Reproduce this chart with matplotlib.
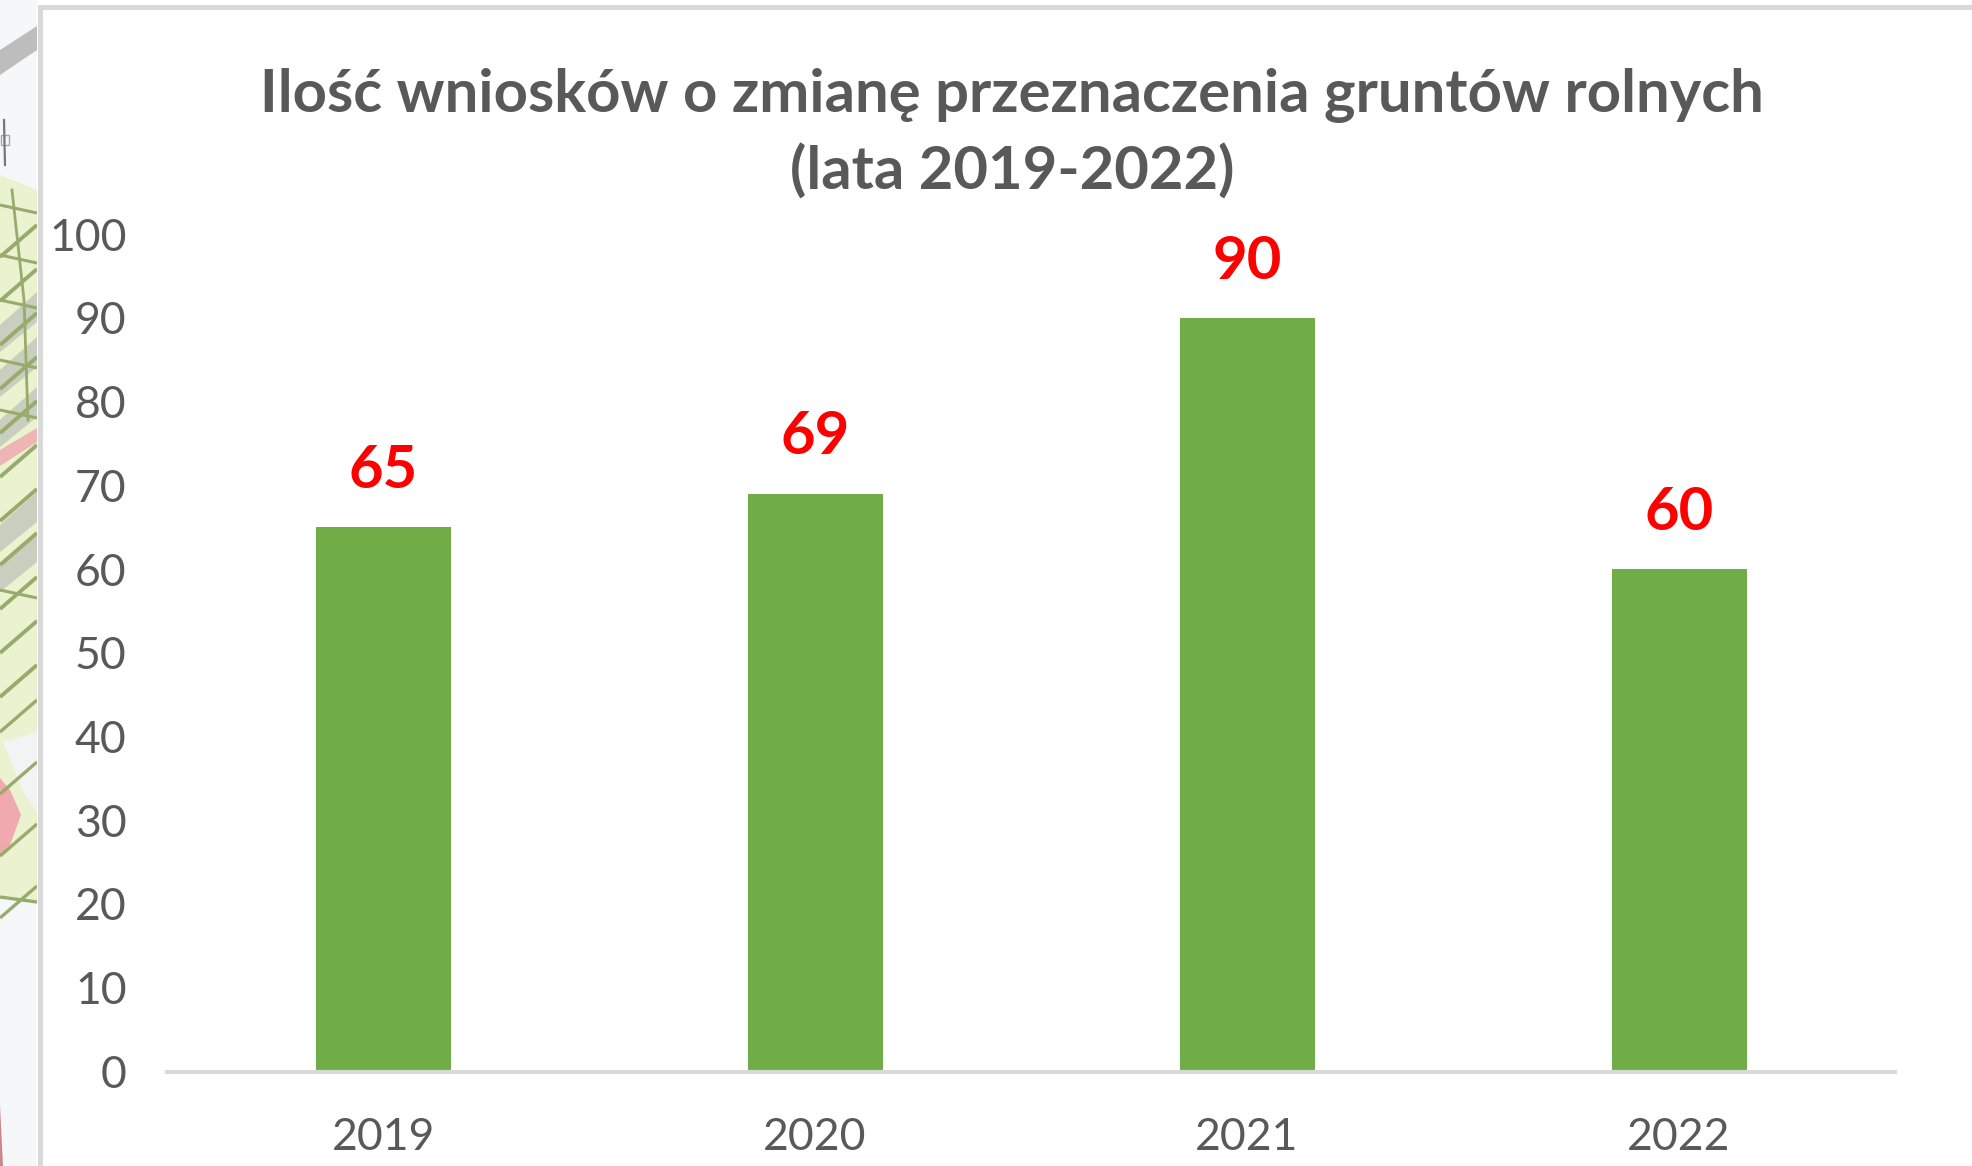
#!/usr/bin/env python3
# -*- coding: utf-8 -*-
"""Applications for farmland re-designation, 2019-2022."""

import numpy as np
import matplotlib

matplotlib.use("Agg")
import matplotlib.pyplot as plt
from matplotlib.patches import Polygon, Rectangle

plt.rcParams["font.family"] = ["Lato", "DejaVu Sans"]

W, H = 1972, 1166

years = ["2019", "2020", "2021", "2022"]
counts = [65, 69, 90, 60]
y_ticks = [0, 10, 20, 30, 40, 50, 60, 70, 80, 90, 100]
title = "Ilość wniosków o zmianę przeznaczenia gruntów rolnych\n(lata 2019-2022)"

GREEN = "#70AD47"
TEXT = "#595959"
AXIS = "#D9D9D9"
RED = "#FF0000"
OLIVE = "#97AB6C"

fig = plt.figure(figsize=(W / 100, H / 100), dpi=100, facecolor="white")

# map fragment showing behind the chart on the left
bg = fig.add_axes([0, 0, 1, 1], zorder=0)
bg.set_xlim(0, W)
bg.set_ylim(H, 0)
bg.axis("off")
bg.add_patch(Rectangle((0, 0), 37, H, color="#F6F7F8", lw=0))
bg.add_patch(Polygon([(0, 175), (37, 190), (37, 900), (0, 895)], color="#EAF2CF", lw=0))
for y0 in (300, 345, 395, 500, 540):
    bg.add_patch(Polygon([(0, y0 + 25), (37, y0 - 8), (37, y0 + 22), (0, y0 + 52)], color="#C9CEBE", lw=0))

# field boundaries
for y0 in range(225, 700, 44):
    bg.plot([0, 37], [y0 + 32, y0], color=OLIVE, lw=2.8, solid_capstyle="butt")
for y0 in range(700, 900, 62):
    bg.plot([0, 37], [y0 + 32, y0], color=OLIVE, lw=2.4, solid_capstyle="butt")
for y0 in (205, 255, 300, 360, 410, 590):
    bg.plot([0, 37], [y0, y0 + 8], color=OLIVE, lw=2.2, solid_capstyle="butt")
bg.plot([12, 24, 28], [190, 300, 420], color=OLIVE, lw=2.0)
bg.plot([0, 37], [897, 902], color=OLIVE, lw=2.4, solid_capstyle="butt")

# pale plot, pink areas and road
bg.add_patch(Polygon([(3, 742), (37, 732), (37, 812), (22, 790)], color="#F2F4F4", lw=0))
bg.add_patch(Polygon([(0, 778), (10, 790), (21, 815), (10, 845), (0, 855)], color="#F0A9AE", lw=0))
bg.add_patch(Polygon([(0, 450), (37, 428), (37, 442), (0, 466)], color="#EFB4B4", lw=0))
bg.add_patch(Polygon([(0, 1105), (3, 1166), (0, 1166)], color="#C9868C", lw=0))
bg.add_patch(Polygon([(0, 50), (37, 26), (37, 50), (0, 75)], color="#BDBDBD", lw=0))
bg.plot([4, 5], [120, 165], color="#777777", lw=1.6)
bg.add_patch(Rectangle((1, 135), 8, 10, facecolor="none", edgecolor="#A8A8A8", lw=1))

# chart frame
bg.add_patch(Rectangle((37, 4), W, H, facecolor="white", edgecolor="none", zorder=3))
bg.plot([39.5, 39.5, W], [H, 6.5, 6.5], color=AXIS, lw=3.6, zorder=4, solid_joinstyle="miter")

left, right, top, bottom = 167, 1895, 234, 1071.5
ax = fig.add_axes(
    [left / W, 1 - bottom / H, (right - left) / W, (bottom - top) / H],
    zorder=1,
)
ax.patch.set_alpha(0)
x = np.arange(len(years))
bars = ax.bar(x, counts, width=0.3125, color=GREEN, zorder=2)
ax.set_xlim(-0.5, len(years) - 0.5)
ax.set_ylim(0, 100)
ax.set_xticks(x, years)
ax.set_yticks(y_ticks)
for side in ["top", "right", "left"]:
    ax.spines[side].set_visible(False)
ax.spines["bottom"].set_color(AXIS)
ax.spines["bottom"].set_linewidth(3.0)
ax.tick_params(axis="both", length=0, labelsize=32, labelcolor=TEXT)
ax.tick_params(axis="x", pad=33)
ax.tick_params(axis="y", pad=29)

for b, v in zip(bars, counts):
    ax.annotate(
        str(v),
        (b.get_x() + b.get_width() / 2, v),
        xytext=(0, 21),
        textcoords="offset points",
        ha="center",
        va="bottom",
        fontsize=43,
        fontweight="bold",
        color=RED,
    )

fig.text(
    1012 / W,
    1 - 134 / H,
    title,
    ha="center",
    va="center",
    fontsize=43,
    fontweight="bold",
    color=TEXT,
    linespacing=1.44,
)

fig.savefig("out.png", dpi=100)
plt.close(fig)
